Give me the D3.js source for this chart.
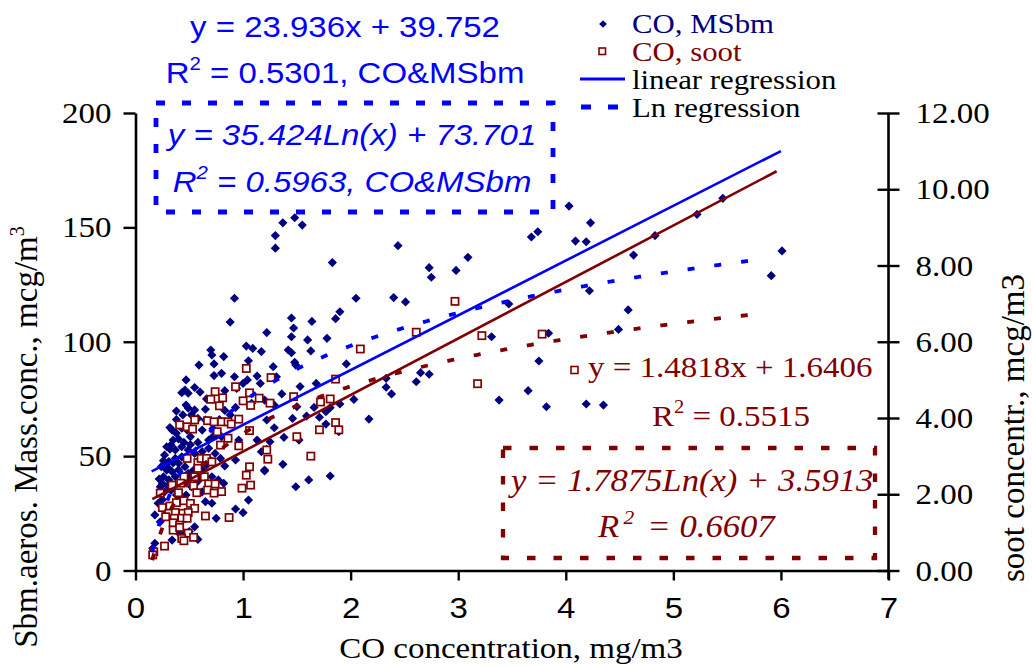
<html>
<head>
<meta charset="utf-8">
<script src="https://cdn.jsdelivr.net/npm/d3@7"></script>
<style>
  body { margin: 0; background: #fff; }
  svg { display: block; }
</style>
</head>
<body>
<div id="chart"></div>
<script>
// CO concentration (mg/m3) vs submicron aerosol mass (left axis) and soot (right axis)
const msbmPoints = [
  [1.37,152.0],[1.48,154.2],[1.55,151.0],[1.30,146.4],[1.30,140.9],[2.44,142.0],[1.83,134.6],[2.73,132.4],
  [2.75,128.2],[2.98,131.2],[3.09,136.9],[0.92,119.0],[0.88,108.6],[1.45,110.4],[1.47,106.0],[1.64,108.9],
  [2.05,119.0],[1.90,113.1],[1.86,110.1],[2.40,119.3],[2.51,117.4],[1.22,104.0],[1.45,102.2],[1.60,100.8],
  [1.78,101.5],
  [4.03,159.3],[4.23,152.0],[3.68,145.8],[3.74,148.1],[4.09,144.0],[4.19,143.7],[4.63,137.9],[4.83,146.4],
  [5.22,155.7],[5.46,162.7],[6.01,139.7],[5.91,128.9],[3.47,116.5],[4.22,122.3],[4.58,113.9],[3.31,102.2],
  [3.84,103.7],[4.49,105.4],[3.75,91.6],[3.65,78.6],[3.38,74.5],[3.82,71.6],[4.19,72.8],[4.35,72.3],
  [1.17,95.7],[1.42,96.4],[1.45,95.2],[1.63,96.0],[1.28,89.1],[1.48,91.0],[1.49,89.8],[1.96,90.3],
  [1.16,81.8],[1.31,84.7],[1.53,80.4],[1.68,81.8],[1.36,77.2],[1.20,74.5],[1.50,71.6],[1.29,72.3],
  [1.46,66.5],[1.22,65.8],[1.59,67.5],[1.66,71.3],[1.71,67.0],[1.77,69.4],[1.81,71.2],[1.77,64.0],
  [1.90,72.8],[2.03,74.8],[2.17,66.2],[2.33,80.1],[2.38,77.2],[2.33,84.0],[2.61,82.5],[2.65,86.5],
  [2.73,85.8],[1.29,62.4],[1.38,58.2],[1.25,56.3],[1.52,57.0],[1.89,60.7],[1.22,53.0],[1.37,46.4],
  [1.20,43.5],[1.49,36.6],[1.61,39.6],[1.81,41.3],
  [0.70,96.4],[0.71,94.2],[0.82,93.5],[1.03,98.1],[1.09,97.1],[0.59,89.8],[0.73,90.3],[0.80,86.2],
  [0.73,85.2],[0.47,83.3],[0.92,84.7],[1.05,91.7],[1.13,85.0],[1.04,83.3],[0.46,78.9],[0.43,77.7],
  [0.49,77.5],[1.00,81.8],[0.94,79.6],[0.83,78.6],[0.47,72.3],[0.38,69.7],[0.55,70.2],[0.65,70.5],
  [0.58,66.5],[0.65,65.8],[1.08,73.1],[0.93,71.3],[0.34,61.4],[0.38,60.0],[0.43,62.2],[0.48,61.4],
  [0.51,58.5],[0.62,61.4],[0.72,58.5],[0.80,58.5],[0.86,57.8],[0.96,57.0],[1.13,57.0],[1.17,51.9],
  [1.20,43.9],[0.33,54.9],[0.37,52.7],[0.43,54.1],[0.49,52.7],[0.55,51.2],[0.27,50.5],[0.31,47.6],
  [0.37,49.0],[0.43,49.7],[0.68,53.4],[0.74,51.2],[0.79,49.0],[0.83,45.7],[0.93,48.3],[0.24,45.4],
  [0.29,43.9],[0.34,43.2],[0.26,41.0],[0.31,39.6],[0.37,41.0],[0.43,38.8],[0.23,36.6],[0.27,34.4],
  [0.52,36.6],[0.62,34.4],[0.82,38.1],[0.65,30.1],[0.71,29.4],[1.05,30.8],[0.93,26.9],[1.00,25.3],
  [0.75,22.8],[0.21,29.4],[0.18,24.3],[0.23,21.3],[0.55,19.1],[0.34,13.3],[0.58,13.6],[0.18,11.9],
  [0.16,9.7],
  [0.35,57.0],[0.29,54.1],[0.40,46.9],[0.46,45.4],[0.49,42.5],[0.54,43.9],[0.62,43.9],[0.71,41.0],
  [0.77,39.6],[0.32,62.5],[0.38,66.0],[0.44,68.0],[0.49,71.0],[0.52,68.0],[0.40,57.5],[0.45,56.0],
  [0.51,55.0],[0.58,56.0],[0.32,53.0],[0.26,48.0],[0.30,45.0],[0.35,47.0],[0.40,44.0],[0.45,41.0],
  [0.50,40.0],[0.22,40.0],[0.25,38.0],[0.30,37.0],[0.33,35.0],[0.38,33.0],[0.42,31.0],[0.47,33.0],
  [0.56,38.0],[0.60,40.0],[0.66,46.0],[0.70,48.0],[0.62,52.0],[0.68,57.0],[0.72,62.0],[0.78,66.0],
  [0.83,70.0],[0.88,68.0],[0.66,75.0],[0.60,78.0],[0.55,80.0],[0.45,15.5],[0.50,17.0],[0.40,16.5],
  [0.28,26.0],[0.25,31.0]
];

const sootPoints = [
  [2.97,7.06],[2.61,6.25],[3.78,6.20],[3.22,6.16],[3.18,4.90],
  [2.09,5.81],[1.26,5.06],[1.86,5.02],[1.47,4.56],[1.25,4.39],[1.72,4.42],[1.81,4.50],[1.86,3.88],
  [1.89,3.69],[1.71,3.69],[1.50,3.51],[1.22,3.16],[1.23,2.92],[1.63,3.00],
  [1.03,5.30],[0.93,4.82],[1.06,4.66],[0.74,4.69],[0.70,4.49],[0.81,4.53],[0.78,4.32],[1.00,4.45],
  [1.07,4.33],[1.15,4.52],[0.55,3.95],[0.67,3.93],[0.73,3.90],[0.80,3.90],[0.86,3.90],[0.89,3.84],
  [0.96,3.97],[0.41,3.82],[0.48,3.77],[0.53,3.71],[0.76,3.64],[1.06,3.67],[0.86,3.47],[0.79,3.29],
  [0.96,3.27],[0.48,2.94],[0.58,2.83],[0.61,2.94],[0.66,2.94],[0.71,2.85],[0.58,2.68],[1.06,2.72],
  [1.03,2.50],[0.45,2.46],[0.55,2.46],[0.64,2.46],[0.34,2.24],[0.42,2.29],[0.54,2.22],[0.68,2.27],
  [0.74,2.27],[0.67,2.11],[0.73,2.03],[0.80,2.07],[0.57,2.04],[0.40,2.04],[0.23,2.03],[0.99,2.16],
  [1.07,2.24],[0.25,1.65],[0.32,1.69],[0.38,1.78],[0.45,1.83],[0.51,1.76],[0.55,1.63],[0.31,1.50],
  [0.37,1.52],[0.44,1.50],[0.49,1.52],[0.28,1.41],[0.36,1.37],[0.43,1.37],[0.48,1.37],[0.65,1.43],
  [0.87,1.39],[0.35,1.25],[0.41,1.19],[0.35,1.06],[0.41,1.13],[0.49,0.98],[0.43,0.84],[0.45,0.78],
  [0.54,0.87],[0.27,0.64],[0.17,0.49],[0.16,0.41]
];

// trendline coefficients as printed on the chart, and the x span each line covers
const linMSbm = [23.936, 39.752], linMSbmRange = [0.15, 6.0];
const lnMSbm = [35.424, 73.701], lnMSbmRange = [0.156, 5.8];
const linSoot = [1.4818, 1.6406], linSootRange = [0.156, 5.96];
const lnSoot = [1.7875, 3.5913], lnSootRange = [0.156, 5.79];

const xTicks = [0, 1, 2, 3, 4, 5, 6, 7];
const yLeftTicks = [0, 50, 100, 150, 200];
const yRightTicks = [0, 2, 4, 6, 8, 10, 12];

const width = 1033, height = 666;
const serif = '"Liberation Serif", "Times New Roman", serif';
const sans = '"Liberation Sans", Arial, sans-serif';
const blue = "#0000ff", navy = "#000080", dred = "#800000";
const SX = 1.1; // the source picture is stretched a little horizontally

const x = d3.scaleLinear().domain([0, 7]).range([135.5, 888.5]);
const yL = d3.scaleLinear().domain([0, 200]).range([570.5, 113]);
const yR = d3.scaleLinear().domain([0, 12]).range([570.5, 113]);

const svg = d3.select("#chart").append("svg")
  .attr("width", width).attr("height", height)
  .attr("viewBox", [0, 0, width, height]);

// axes
const gx = svg.append("g")
  .attr("transform", `translate(0,${yL(0)})`)
  .call(d3.axisBottom(x).tickValues(xTicks).tickSize(10).tickSizeOuter(0).tickPadding(16)
    .tickFormat(d3.format("d")));
gx.selectAll(".tick text").attr("font-family", sans).attr("font-size", 30)
  .attr("transform", `scale(${SX},1)`);

const gl = svg.append("g")
  .attr("transform", `translate(${x(0)},0)`)
  .call(d3.axisLeft(yL).tickValues(yLeftTicks).tickSize(12).tickSizeOuter(0).tickPadding(12)
    .tickFormat(d3.format("d")));
gl.selectAll(".tick text").attr("font-family", serif).attr("font-size", 30)
  .attr("x", 0).attr("transform", `translate(-24,0) scale(${SX},1)`);

const gr = svg.append("g")
  .attr("transform", `translate(${x(7)},0)`)
  .call(d3.axisRight(yR).tickValues(yRightTicks).tickSize(11).tickSizeOuter(0)
    .tickFormat(d3.format(".2f")));
gr.selectAll(".tick line").attr("x1", -11);
gr.selectAll(".tick text").attr("font-family", serif).attr("font-size", 30)
  .attr("x", 0).attr("transform", `translate(27,0) scale(${SX},1)`);

svg.selectAll(".domain").attr("stroke-width", 2.6);
svg.selectAll(".tick line").attr("stroke-width", 2.4);
svg.selectAll(".tick text").attr("fill", "#000");
gr.select(".domain").attr("d", `M0,${yR(12)}V${yL(0) + 9}`);

// scatter: diamonds then open squares
svg.append("g").selectAll("path")
  .data(msbmPoints)
  .join("path")
  .attr("d", d3.symbol(d3.symbolSquare, 42))
  .attr("transform", d => `translate(${x(d[0])},${yL(d[1])}) rotate(45)`)
  .attr("fill", navy);

svg.append("g").selectAll("rect")
  .data(sootPoints)
  .join("rect")
  .attr("x", d => x(d[0]) - 3.6)
  .attr("y", d => yR(d[1]) - 3.6)
  .attr("width", 7.2).attr("height", 7.2)
  .attr("fill", "#fff").attr("stroke", dred).attr("stroke-width", 1.7);

// trendlines
const line = d3.line();
function trend(range, f, y, color, dashed) {
  const xs = dashed ? d3.range(range[0], range[1], 0.01).concat([range[1]]) : range;
  svg.append("path")
    .attr("d", line(xs.map(v => [x(v), y(f(v))])))
    .attr("fill", "none")
    .attr("stroke", color)
    .attr("stroke-width", dashed ? 3.8 : 2.6)
    .attr("stroke-dasharray", dashed ? "7,20" : null);
}
trend(lnMSbmRange, v => lnMSbm[0] * Math.log(v) + lnMSbm[1], yL, blue, true);
trend(lnSootRange, v => lnSoot[0] * Math.log(v) + lnSoot[1], yR, dred, true);
trend(linMSbmRange, v => linMSbm[0] * v + linMSbm[1], yL, blue, false);
trend(linSootRange, v => linSoot[0] * v + linSoot[1], yR, dred, false);

// text helper
function label(px, py, font, size, fill, anchor, italic) {
  return svg.append("text")
    .attr("transform", `translate(${px},${py}) scale(${SX},1)`)
    .attr("font-family", font).attr("font-size", size)
    .attr("fill", fill).attr("text-anchor", anchor)
    .attr("font-style", italic ? "italic" : null);
}
function rsq(t, size, rest, gap) {
  t.append("tspan").text("R");
  t.append("tspan").attr("dx", gap || 0).attr("dy", -0.42 * size).attr("font-size", 0.62 * size).text("2");
  t.append("tspan").attr("dx", gap || 0).attr("dy", 0.42 * size).text(rest);
}

// equation boxes
svg.append("rect").attr("x", 156).attr("y", 103).attr("width", 397).attr("height", 109)
  .attr("fill", "none").attr("stroke", blue).attr("stroke-width", 4.8).attr("stroke-dasharray", "9,17");
svg.append("rect").attr("x", 503).attr("y", 448).attr("width", 372).attr("height", 110)
  .attr("fill", "none").attr("stroke", dred).attr("stroke-width", 4.3).attr("stroke-dasharray", "8.5,18");

label(345, 37, sans, 30, blue, "middle").text("y = 23.936x + 39.752");
rsq(label(345, 83, sans, 30, blue, "middle"), 30, " = 0.5301, CO&MSbm");
label(352, 145, sans, 30, blue, "middle", true).text("y = 35.424Ln(x) + 73.701");
rsq(label(352, 192, sans, 30, blue, "middle", true), 30, " = 0.5963, CO&MSbm");

label(588, 377, serif, 30, dred, "start").text("y = 1.4818x + 1.6406");
rsq(label(652, 426, serif, 30, dred, "start"), 30, " = 0.5515");
label(511, 491, serif, 31.5, dred, "start", true).text("y = 1.7875Ln(x) + 3.5913");
rsq(label(598, 537, serif, 31.5, dred, "start", true), 31.5, "  = 0.6607", 4);
svg.append("rect").attr("x", 571).attr("y", 366.5).attr("width", 7).attr("height", 7)
  .attr("fill", "#fff").attr("stroke", dred).attr("stroke-width", 1.6);

// legend
svg.append("path").attr("d", d3.symbol(d3.symbolSquare, 30))
  .attr("transform", "translate(603,24) rotate(45)").attr("fill", navy);
svg.append("rect").attr("x", 599).attr("y", 48).attr("width", 6.5).attr("height", 6.5)
  .attr("fill", "#fff").attr("stroke", dred).attr("stroke-width", 1.6);
svg.append("line").attr("x1", 580).attr("x2", 625).attr("y1", 79).attr("y2", 79)
  .attr("stroke", blue).attr("stroke-width", 3);
svg.append("line").attr("x1", 581).attr("x2", 626).attr("y1", 107).attr("y2", 107)
  .attr("stroke", blue).attr("stroke-width", 5).attr("stroke-dasharray", "10,17");
label(632, 33, serif, 28, navy, "start").text("CO, MSbm");
label(632, 61, serif, 28, dred, "start").text("CO, soot");
label(632, 89, serif, 28, "#000", "start").text("linear regression");
label(632, 117, serif, 28, "#000", "start").text("Ln regression");

// axis titles
svg.append("text")
  .attr("transform", `translate(511,658) scale(${SX},1)`)
  .attr("font-family", serif).attr("font-size", 30).attr("text-anchor", "middle")
  .text("CO concentration, mg/m3");

const yt = svg.append("text")
  .attr("transform", "translate(37,437) rotate(-90)")
  .attr("font-family", serif).attr("font-size", 33).attr("text-anchor", "middle");
yt.append("tspan").text("Sbm.aeros. Mass.conc., mcg/m");
yt.append("tspan").attr("dy", -13).attr("font-size", 20).text("3");

svg.append("text")
  .attr("transform", "translate(1024,428) rotate(-90)")
  .attr("font-family", serif).attr("font-size", 33).attr("text-anchor", "middle")
  .text("soot concentr., mcg/m3");
</script>
</body>
</html>
